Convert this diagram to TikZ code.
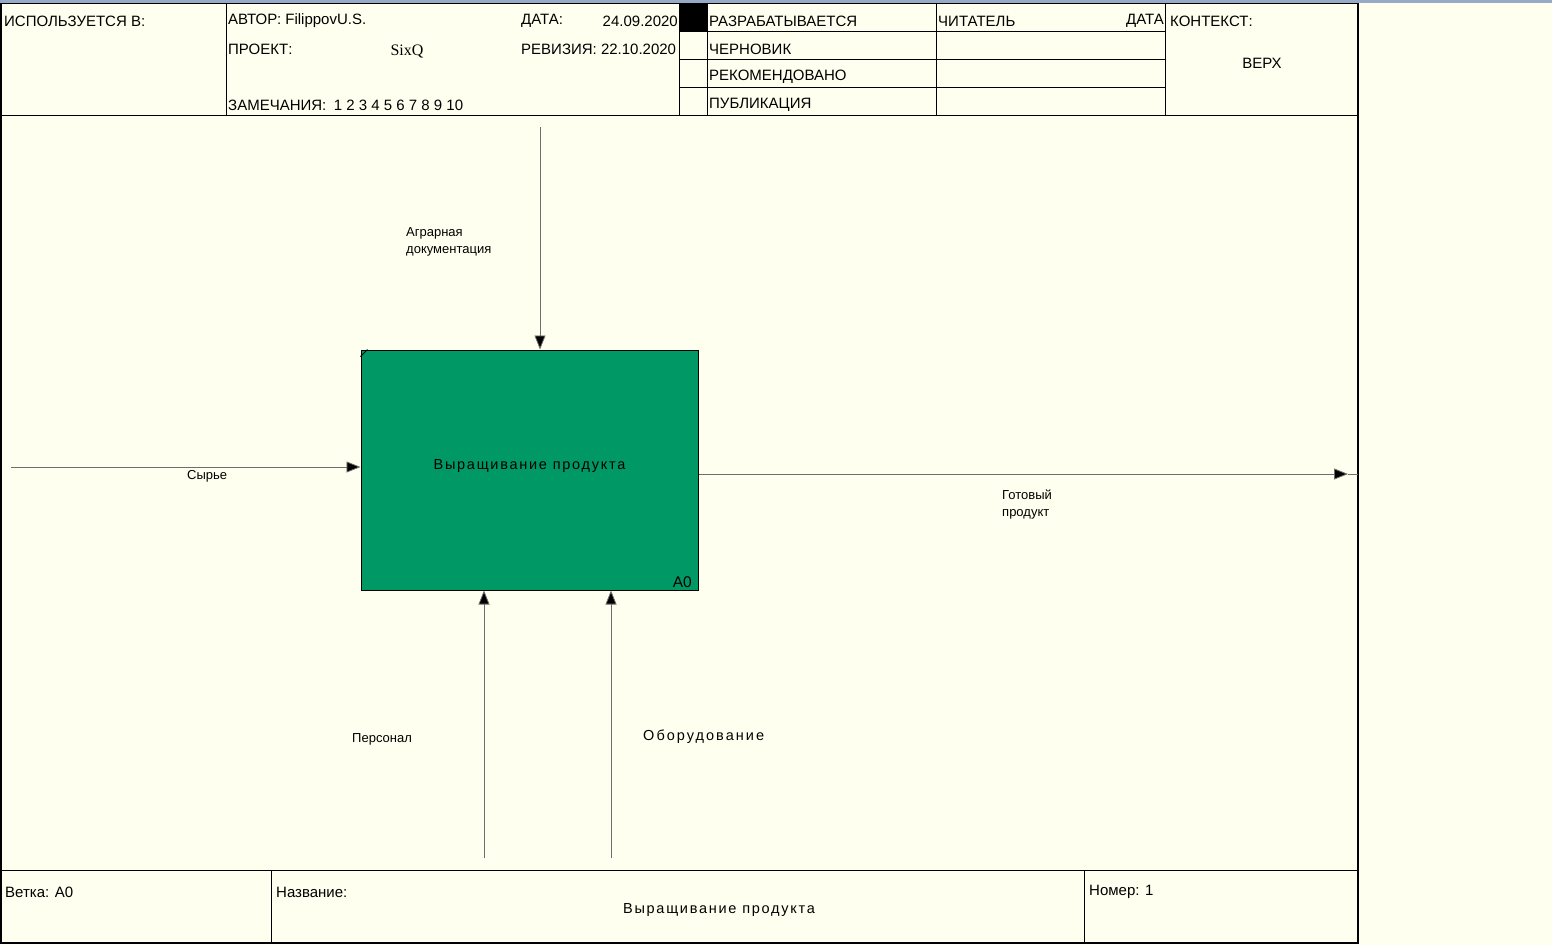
\documentclass[tikz,border=0pt]{standalone}
\usepackage{fontspec}
\setmainfont{Liberation Sans}
\newfontfamily\spaced[LetterSpace=12]{Liberation Sans}
\newfontfamily\wider[LetterSpace=14]{Liberation Sans}
\newfontfamily\serifq{Liberation Serif}
\usetikzlibrary{arrows.meta}

\definecolor{paper}{RGB}{255,255,240}
\definecolor{boxgreen}{RGB}{0,153,102}
\definecolor{wire}{RGB}{110,110,110}
\definecolor{strip}{RGB}{150,170,200}

\tikzset{
	hdr/.style={anchor=west,inner sep=0pt,font=\fontsize{15}{17}\selectfont},
	ftr/.style={anchor=west,inner sep=0pt,font=\fontsize{15}{17}\selectfont},
	lbl/.style={anchor=west,inner sep=0pt,align=left,font=\fontsize{13}{17}\selectfont},
	fnbox/.style={draw,fill=boxgreen,line width=1pt,minimum width=337pt,minimum height=240pt,inner sep=0pt},
	arr/.style={draw=wire,line width=0.8pt,-{Triangle[length=14pt,width=11pt,fill=black]}},
	flow/.style={draw=wire,line width=0.8pt}
}

\begin{document}
\begin{tikzpicture}[x=1pt,y=-1pt]
	\useasboundingbox (0,0) rectangle (1552,945);
	\fill[paper] (0,0) rectangle (1552,945);
	\fill[strip] (0,0) rectangle (1552,2.5);

	% frame
	\draw[line width=1.5pt] (0.8,3.5) rectangle (1358,943);
	\draw[line width=1pt] (0.8,115) -- (1358,115);
	\draw[line width=1pt] (0.8,870) -- (1358,870);
	\foreach \x in {226,679,707,936,1165}
		\draw[line width=1pt] (\x,3.5) -- (\x,115);
	\foreach \y in {31,59,87}
		\draw[line width=1pt] (679,\y) -- (1165,\y);
	\fill[black] (679,3.5) rectangle (707,31);
	\foreach \x in {271,1084}
		\draw[line width=1pt] (\x,870) -- (\x,943);

	% header texts
	\node[hdr] (usedin) at (4,21) {ИСПОЛЬЗУЕТСЯ В:};
	\node[hdr] (author) at (228,21) {АВТОР: FilippovU.S.};
	\node[hdr] (date) at (521,21) {ДАТА:};
	\node[hdr,anchor=east] (dateval) at (678,21) {24.09.2020};
	\node[hdr] (project) at (228,49) {ПРОЕКТ:};
	\node[inner sep=0pt,font=\serifq\fontsize{16}{18}\selectfont] (projname) at (407,51) {SixQ};
	\node[hdr] (revision) at (521,49) {РЕВИЗИЯ: 22.10.2020};
	\node[hdr] (notes) at (228,105) {ЗАМЕЧАНИЯ:\enspace 1 2 3 4 5 6 7 8 9 10};
	\node[hdr] (working) at (709,21) {РАЗРАБАТЫВАЕТСЯ};
	\node[hdr] (draft) at (709,49) {ЧЕРНОВИК};
	\node[hdr] (recommended) at (709,77) {РЕКОМЕНДОВАНО};
	\node[hdr] (publication) at (709,105) {ПУБЛИКАЦИЯ};
	\node[hdr] (reader) at (938,21) {ЧИТАТЕЛЬ};
	\node[hdr,anchor=east] (readerdate) at (1164,21) {ДАТА};
	\node[hdr] (context) at (1170,21) {КОНТЕКСТ:};
	\node[hdr,anchor=center] (top) at (1262,63) {ВЕРХ};

	% function box
	\node[fnbox] (a0) at (529.5,470) {};
	\node[inner sep=0pt,font=\spaced\fontsize{14.5}{16}\selectfont] (a0name) at (529.5,466) {Выращивание продукта};
	\node[inner sep=0pt,anchor=east,font=\fontsize{15.5}{17}\selectfont] (a0num) at (692,582) {А0};
	\draw[line width=1pt] ([yshift=-7pt]a0.north west) -- ([xshift=7pt]a0.north west);

	% arrows
	\coordinate (ctl) at (540,127);
	\coordinate (inp) at (11,467);
	\coordinate (out) at (1348,474);
	\coordinate (outend) at (1358,474);
	\coordinate (mech1) at (484,858);
	\coordinate (mech2) at (611,858);
	\draw[arr] (ctl) -- (ctl |- a0.north);
	\draw[arr] (inp) -- (inp -| a0.west);
	\draw[arr] (a0.east |- out) -- (out);
	\draw[flow] (out) -- (outend);
	\draw[arr] (mech1) -- (mech1 |- a0.south);
	\draw[arr] (mech2) -- (mech2 |- a0.south);

	% arrow labels
	\node[lbl] (ctllbl) at (406,242) {Аграрная\\документация};
	\node[lbl] (inplbl) at (187,476) {Сырье};
	\node[lbl] (outlbl) at (1002,505) {Готовый\\продукт};
	\node[lbl] (mech1lbl) at (352,739) {Персонал};
	\node[anchor=west,inner sep=0pt,font=\wider\fontsize{14.5}{16}\selectfont] (mech2lbl) at (643,737) {Оборудование};

	% footer texts
	\node[ftr] (node) at (5,892) {Ветка: А0};
	\node[ftr] (title) at (276,892) {Название:};
	\node[inner sep=0pt,font=\spaced\fontsize{14.5}{16}\selectfont] (titleval) at (719,910) {Выращивание продукта};
	\node[ftr] (number) at (1089,892) {Номер: 1};
\end{tikzpicture}
\end{document}
